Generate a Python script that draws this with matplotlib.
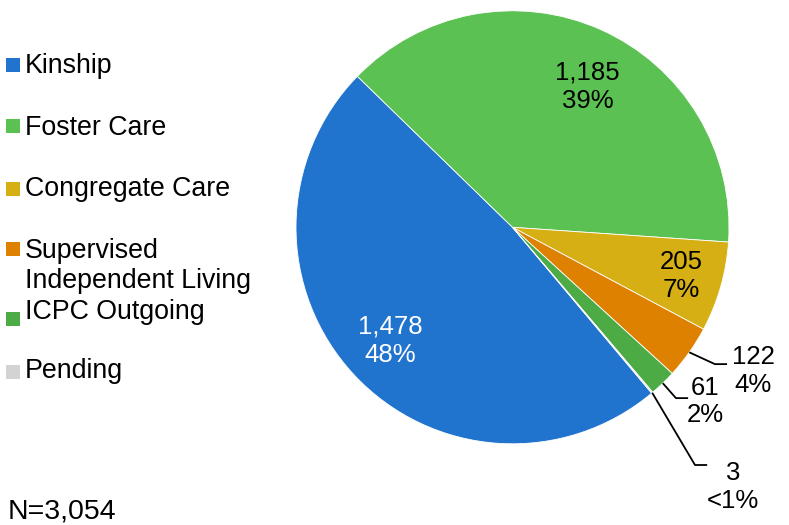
import numpy as np
import matplotlib.pyplot as plt
from matplotlib.patches import Rectangle

plt.rcParams['font.family'] = ['Liberation Sans', 'DejaVu Sans']

categories = ['Kinship', 'Foster Care', 'Congregate Care',
              'Supervised\nIndependent Living', 'ICPC Outgoing', 'Pending']
counts = [1478, 1185, 205, 122, 61, 3]
pct_labels = ['48%', '39%', '7%', '4%', '2%', '<1%']
colors = ['#2174CE', '#5BC152', '#D5AF13', '#DE8100', '#4DAB45', '#D3D3D3']
total = sum(counts)

W, H = 789, 525
fig = plt.figure(figsize=(W / 100, H / 100), dpi=100)

# pie center (512.5, 227) px from top, radius 216.5 px
cx, cy, R = 512.5, 227.3, 216.5
L = 1.4
S = 2 * L * R
ax = fig.add_axes([(cx - S / 2) / W, (H - cy - S / 2) / H, S / W, S / H])

wedges, _ = ax.pie(counts, colors=colors, startangle=310, counterclock=False,
                   radius=1, wedgeprops=dict(edgecolor='white', linewidth=0.6))
ax.set_xlim(-L, L)
ax.set_ylim(-L, L)
ax.set_aspect('equal')
ax.axis('off')

def mid_angle(w):
    return np.deg2rad((w.theta1 + w.theta2) / 2)

fs = 18.5
# labels inside the big slices: (radius, angle nudge in degrees)
inside = {0: (0.77, 0, 'white'), 1: (0.735, -4, 'black'), 2: (0.81, 0, 'black')}
for i, (r, nudge, col) in inside.items():
    a = mid_angle(wedges[i]) + np.deg2rad(nudge)
    ax.text(r * np.cos(a), r * np.sin(a), f'{counts[i]:,}\n{pct_labels[i]}',
            ha='center', va='center', fontsize=fs, color=col, linespacing=1.2)

# small slices get leader lines: elbow point and text position
elbows = {3: (0.935, -0.632), 4: (0.755, -0.789), 5: (0.843, -1.098)}
seg = 0.056
text_pos = {3: (1.111, -0.665), 4: (0.889, -0.805), 5: (1.018, -1.20)}
for i in elbows:
    a = mid_angle(wedges[i])
    ex, ey = elbows[i]
    ax.plot([np.cos(a), ex, ex + seg], [np.sin(a), ey, ey], color='black',
            lw=1.3, solid_capstyle='butt', clip_on=False)
    tx, ty = text_pos[i]
    ax.text(tx, ty, f'{counts[i]:,}\n{pct_labels[i]}', ha='center', va='center',
            fontsize=fs, linespacing=1.2)

# legend down the left side (pixel positions from top)
marker_y = [65, 126, 189, 249, 319, 372]
text_base = [73, 135, 196, 258, 319, 378]
for cat, col, my, ty in zip(categories, colors, marker_y, text_base):
    fig.patches.append(Rectangle((6 / W, (H - my - 7) / H), 14 / W, 14 / H,
                                 transform=fig.transFigure, facecolor=col,
                                 edgecolor='none'))
    for k, line in enumerate(cat.split('\n')):
        fig.text(25 / W, (H - ty - 30 * k) / H, line, fontsize=19.3,
                 ha='left', va='baseline')

fig.text(8 / W, (H - 518) / H, f'N={total:,}', fontsize=20.5, ha='left', va='baseline')

fig.savefig('out.png', dpi=100)
